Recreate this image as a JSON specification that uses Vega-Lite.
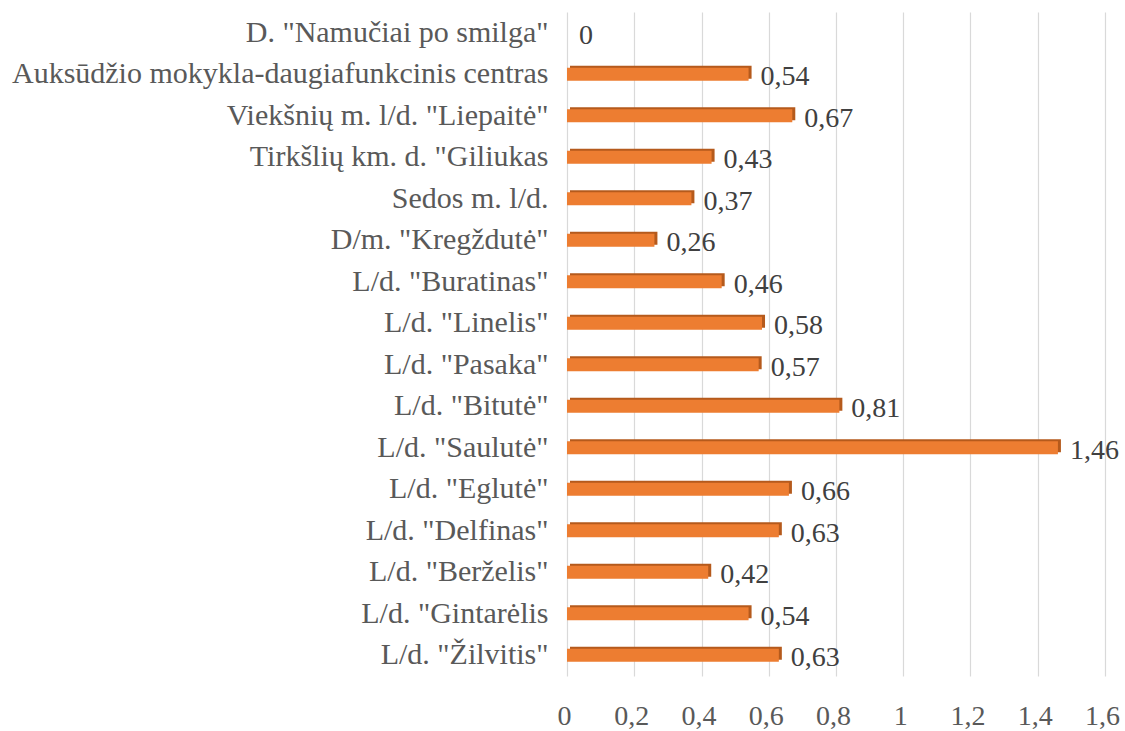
{
  "$schema": "https://vega.github.io/schema/vega-lite/v6.json",
  "width": 538,
  "height": 664,
  "autosize": "none",
  "padding": {"left": 567, "top": 12, "right": 20, "bottom": 55},
  "background": "white",
  "config": {
    "locale": {"number": {"decimal": ",", "thousands": " ", "grouping": [3], "currency": ["", " €"]}},
    "view": {"stroke": null},
    "font": "Times New Roman, Liberation Serif, serif"
  },
  "data": {
    "values": [
      {"name": "D. \"Namučiai po smilga\"", "value": 0},
      {"name": "Auksūdžio mokykla-daugiafunkcinis centras", "value": 0.54},
      {"name": "Viekšnių m. l/d. \"Liepaitė\"", "value": 0.67},
      {"name": "Tirkšlių km. d. \"Giliukas", "value": 0.43},
      {"name": "Sedos m. l/d.", "value": 0.37},
      {"name": "D/m. \"Kregždutė\"", "value": 0.26},
      {"name": "L/d. \"Buratinas\"", "value": 0.46},
      {"name": "L/d. \"Linelis\"", "value": 0.58},
      {"name": "L/d. \"Pasaka\"", "value": 0.57},
      {"name": "L/d. \"Bitutė\"", "value": 0.81},
      {"name": "L/d. \"Saulutė\"", "value": 1.46},
      {"name": "L/d. \"Eglutė\"", "value": 0.66},
      {"name": "L/d. \"Delfinas\"", "value": 0.63},
      {"name": "L/d. \"Berželis\"", "value": 0.42},
      {"name": "L/d. \"Gintarėlis", "value": 0.54},
      {"name": "L/d. \"Žilvitis\"", "value": 0.63}
    ]
  },
  "encoding": {
    "y": {
      "field": "name",
      "type": "nominal",
      "sort": null,
      "title": null,
      "axis": {
        "domain": false,
        "ticks": false,
        "labelFont": "Times New Roman, Liberation Serif, serif",
        "labelFontSize": 30,
        "labelColor": "#595959",
        "labelPadding": 19,
        "labelLimit": 600
      }
    },
    "x": {
      "field": "value",
      "type": "quantitative",
      "scale": {"domain": [0, 1.6], "nice": false},
      "title": null,
      "axis": {
        "values": [0, 0.2, 0.4, 0.6, 0.8, 1, 1.2, 1.4, 1.6],
        "format": "~r",
        "domain": false,
        "ticks": false,
        "grid": true,
        "gridColor": "#D9D9D9",
        "gridWidth": 1.2,
        "labelFont": "Times New Roman, Liberation Serif, serif",
        "labelFontSize": 28,
        "labelColor": "#595959",
        "labelPadding": 26,
        "labelOffset": -3,
        "labelFlush": false,
        "labelOverlap": false
      }
    }
  },
  "layer": [
    {
      "mark": {"type": "bar", "size": 13, "color": "#B55A1C", "xOffset": 3, "yOffset": -2},
      "encoding": {}
    },
    {
      "mark": {"type": "bar", "size": 13, "color": "#ED7D31"},
      "encoding": {}
    },
    {
      "mark": {"type": "text", "align": "left", "baseline": "middle", "dx": 12, "dy": 3, "fontSize": 28, "font": "Times New Roman, Liberation Serif, serif", "color": "#404040"},
      "encoding": {
        "text": {"field": "value", "type": "quantitative", "format": "~r"}
      }
    }
  ]
}
